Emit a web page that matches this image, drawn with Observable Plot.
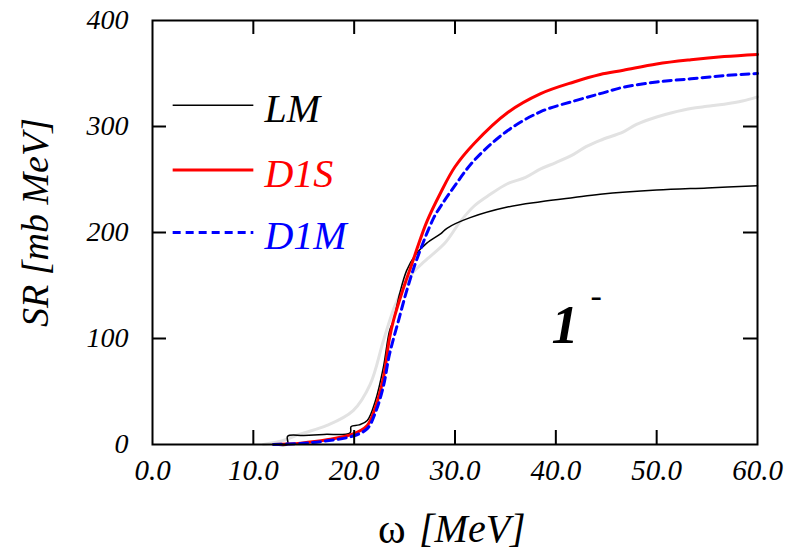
<!DOCTYPE html>
<html><head><meta charset="utf-8">
<script src="https://cdn.jsdelivr.net/npm/d3@7"></script>
<script src="https://cdn.jsdelivr.net/npm/@observablehq/plot@0.6"></script>
<style>body{margin:0;background:#fff}</style>
</head><body><div id="chart"></div>
<script>
// Energy (MeV) and summed strength (mb MeV)
const lmX  = [12, 13.4, 13.4, 15, 17, 19.6, 19.7, 20.5, 21.3, 22.1, 22.9, 23.5, 23.9, 24.5, 25.2, 26, 27.2, 28.6, 29.2, 31.5, 35.2, 38.5, 41.8, 44.4, 50, 55, 60];
const lmY  = [0, 0, 7.8, 8.5, 9.5, 11, 17, 18.5, 22.6, 41, 73, 107, 117, 142, 164, 178, 190, 199, 204, 214, 224, 229, 233, 236, 240, 242, 244];
const d1sX = [12, 14.7, 17.3, 19.9, 21.3, 22.1, 22.9, 23.5, 23.9, 24.8, 25.6, 27.2, 28.6, 30, 31.9, 35.2, 38.5, 41.8, 44.4, 46.7, 50, 53.4, 56.7, 60];
const d1sY = [0, 1.3, 4.4, 10, 18, 35, 63, 100, 117, 145, 167, 210, 238, 262, 284, 313, 331, 342, 349, 353, 359, 363, 366, 368];
const d1mX = [12, 14.7, 17.3, 19.9, 21.3, 22.1, 22.9, 23.5, 24.4, 25.3, 26.3, 27.9, 28.6, 29.9, 31.9, 35.2, 38.5, 41.8, 44.4, 46.7, 50, 53.4, 56.7, 60];
const d1mY = [0, 1, 3.5, 8, 15, 30, 55, 85, 117, 148, 177, 214, 225, 243, 268, 296, 314, 324, 331, 337, 342, 345, 348, 350];
const grayX = [11, 12.7, 14.7, 17.3, 19.9, 21.6, 22.9, 24, 25, 25.9, 27, 29, 30.5, 31.9, 33.5, 35.2, 37, 38.5, 40, 41.8, 43, 44.4, 46.7, 48, 50, 51.5, 53.4, 55, 56.7, 58.5, 60];
const grayY = [0, 3, 10, 18, 32, 57, 98, 130, 150, 163, 173, 190, 210, 225, 236, 246, 252, 260, 266, 274, 281, 287, 295, 302, 309, 313, 317, 319, 321, 324, 328];

const xTickLabels = [0, 10, 20, 30, 40, 50, 60];
const yTickLabels = [0, 100, 200, 300, 400];
const xInnerTicks = [10, 20, 30, 40, 50];
const yInnerTicks = [100, 200, 300];

const legendNames  = ["LM", "D1S", "D1M"];
const legendColors = ["#000000", "#ff0000", "#0000ff"];
const legendYs     = [320, 259, 200];   // legend rows (mb MeV)
const legendX      = [2, 10, 11.1];     // line start, line end, text start (MeV)

const rows = (xs, ys) => xs.map((x, i) => ({x, y: ys[i]}));
const serif = "'Liberation Serif', 'Times New Roman', serif";
const legendRows = legendNames.map((n, i) => ({n, c: legendColors[i], y: legendYs[i]}));
const legendLine = (i, opts) => Plot.link([legendRows[i]], {x1: () => legendX[0], x2: () => legendX[1], y1: "y", y2: "y", stroke: legendColors[i], ...opts});

const fw = 605, fh = 424, tl = 14; // frame size and inward tick length (px)

const chart = Plot.plot({
  width: 789, height: 555,
  marginLeft: 152, marginRight: 32, marginTop: 20, marginBottom: 111,
  style: {fontFamily: serif, fontStyle: "italic", fontSize: "28px", background: "#fff", overflow: "visible"},
  x: {domain: [0, 60]},
  y: {domain: [0, 400]},
  marks: [
    Plot.line(rows(grayX, grayY), {x: "x", y: "y", stroke: "#e2e2e2", strokeWidth: 3, curve: "catmull-rom"}),
    Plot.line(rows(lmX, lmY), {x: "x", y: "y", stroke: "#000", strokeWidth: 1.5, curve: "catmull-rom"}),
    Plot.line(rows(d1sX, d1sY), {x: "x", y: "y", stroke: "#ff0000", strokeWidth: 3, curve: "catmull-rom"}),
    Plot.line(rows(d1mX, d1mY), {x: "x", y: "y", stroke: "#0000ff", strokeWidth: 3, strokeDasharray: "8,5", curve: "catmull-rom"}),
    Plot.frame({stroke: "#000", strokeWidth: 2}),
    Plot.ruleX(xInnerTicks, {x: d => d, insetTop: fh - tl, stroke: "#000", strokeWidth: 2}),
    Plot.ruleX(xInnerTicks, {x: d => d, insetBottom: fh - tl, stroke: "#000", strokeWidth: 2}),
    Plot.ruleY(yInnerTicks, {y: d => d, insetRight: fw - tl, stroke: "#000", strokeWidth: 2}),
    Plot.ruleY(yInnerTicks, {y: d => d, insetLeft: fw - tl, stroke: "#000", strokeWidth: 2}),
    Plot.axisX({anchor: "bottom", ticks: xTickLabels, tickSize: 0, tickPadding: 15, tickFormat: d3.format(".1f"), label: null,
      fontSize: 29, fontStyle: "italic", fontFamily: serif, fill: "#000"}),
    Plot.axisY({anchor: "left", ticks: yTickLabels, tickSize: 0, tickPadding: 24, tickFormat: d3.format("d"), label: null,
      fontSize: 28, fontStyle: "italic", fontFamily: serif, fill: "#000"}),
    Plot.text(["SR [mb MeV]"], {frameAnchor: "left", textAnchor: "middle", lineAnchor: "middle", dx: -117, dy: -10, rotate: -90,
      fontSize: 38, fontStyle: "italic", fontFamily: serif, fill: "#000"}),
    Plot.text(["ω"], {frameAnchor: "bottom", textAnchor: "start", lineAnchor: "middle", dx: -77, dy: 85, fontSize: 42, fontStyle: "normal", fontFamily: serif, fill: "#000"}),
    Plot.text(["[MeV]"], {frameAnchor: "bottom", textAnchor: "start", lineAnchor: "middle", dx: -36, dy: 85, fontSize: 40, fontStyle: "italic", fontFamily: serif, fill: "#000"}),
    legendLine(0, {strokeWidth: 1.5}),
    legendLine(1, {strokeWidth: 3}),
    legendLine(2, {strokeWidth: 3, strokeDasharray: "8,5"}),
    Plot.text(legendRows, {x: () => legendX[2], y: "y", text: "n", fill: d => d.c, textAnchor: "start", lineAnchor: "middle", dy: 4, fontSize: 40, fontStyle: "italic", fontFamily: serif}),
    Plot.text(["1"], {x: 40.9, y: 112, fontSize: 54, fontStyle: "italic", fontWeight: "bold", fontFamily: serif, fill: "#000"}),
    Plot.text(["-"], {x: 44, y: 140, fontSize: 34, fontStyle: "normal", fontFamily: serif, fill: "#000"})
  ]
});
document.getElementById("chart").appendChild(chart);
</script></body></html>
